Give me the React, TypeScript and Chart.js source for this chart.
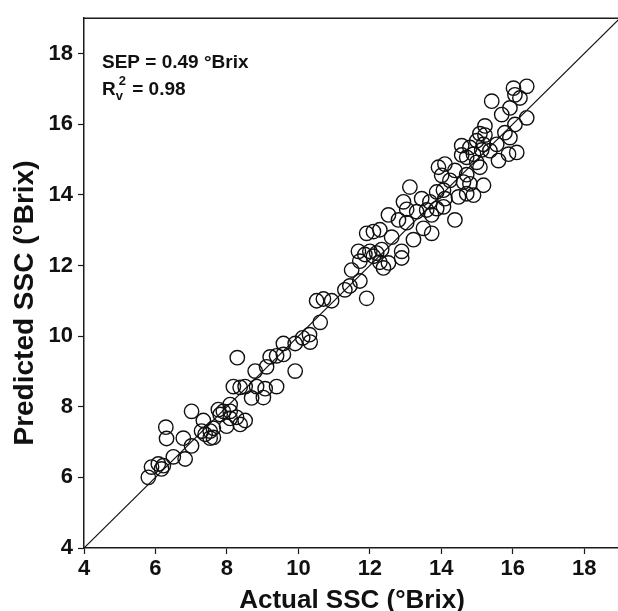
import { useEffect, useRef } from 'react';
import { Chart, registerables } from 'chart.js';
Chart.register(...registerables);

const actualSSC = [
  5.80, 5.89, 6.08, 6.17, 6.50, 6.83, 6.29, 6.31, 6.78, 7.01,
  7.01, 7.34, 7.29, 7.53, 7.53, 7.62, 7.76, 7.90, 8.09, 8.09,
  8.27, 8.51, 7.99, 8.18, 8.37, 8.51, 8.69, 9.02, 8.83, 9.07,
  9.39, 8.29, 8.79, 9.11, 9.21, 9.39, 9.58, 9.91, 9.58, 9.91,
  10.12, 10.33, 10.31, 10.61, 10.51, 10.70, 10.93, 11.30, 11.44, 11.91,
  11.72, 11.49, 11.72, 11.68, 12.00, 12.10, 12.33, 12.28, 12.38, 12.52,
  12.89, 12.89, 13.22, 11.91, 12.10, 12.28, 12.52, 12.61, 12.80, 13.03,
  13.73, 13.50, 12.94, 13.03, 13.31, 13.73, 14.06, 14.38, 13.68, 13.45,
  13.87, 14.10, 14.48, 13.12, 14.71, 16.39, 16.02, 16.20, 15.41, 15.92,
  15.69, 16.39, 16.06, 15.22, 15.08, 15.22, 15.78, 15.55, 16.11, 15.88,
  15.60, 15.36, 15.13, 14.80, 14.57, 14.57, 14.99, 15.08, 14.10, 13.92,
  14.38, 14.71, 14.62, 14.80, 15.18, 14.06, 14.90, 14.99, 14.71, 6.22,
  7.39, 7.62, 7.81, 8.37, 8.09, 11.86, 12.19, 13.59, 13.87, 14.90,
  15.18, 14.24, 14.01, 15.92, 16.06,
];
const predictedSSC = [
  6.00, 6.29, 6.38, 6.24, 6.58, 6.52, 7.42, 7.10, 7.11, 6.89,
  7.87, 7.61, 7.31, 7.31, 7.11, 7.39, 7.92, 7.87, 8.06, 7.67,
  7.70, 7.61, 7.45, 8.57, 8.55, 8.57, 8.25, 8.26, 8.57, 8.51,
  8.57, 9.39, 9.01, 9.13, 9.41, 9.44, 9.48, 9.01, 9.79, 9.79,
  9.95, 9.83, 10.04, 10.39, 11.00, 11.05, 11.00, 11.31, 11.42, 11.07,
  11.56, 11.87, 12.12, 12.40, 12.40, 12.26, 12.45, 12.09, 11.93, 12.07,
  12.40, 12.21, 12.73, 12.91, 12.96, 13.01, 13.43, 12.80, 13.29, 13.21,
  12.91, 13.05, 13.80, 13.59, 13.52, 13.43, 13.66, 13.29, 13.80, 13.89,
  14.08, 13.89, 13.94, 14.22, 14.03, 17.07, 17.02, 16.74, 16.65, 16.46,
  16.27, 16.18, 15.99, 15.95, 15.73, 15.69, 15.76, 15.43, 15.20, 15.15,
  14.97, 15.25, 15.27, 15.34, 15.39, 15.13, 14.92, 14.78, 14.87, 14.78,
  14.69, 14.57, 14.36, 14.31, 14.27, 14.13, 13.99, 15.53, 15.06, 6.33,
  7.22, 7.13, 7.78, 7.50, 7.87, 12.31, 12.35, 13.57, 13.61, 15.15,
  15.43, 14.41, 14.55, 15.62, 16.83,
];
const xTicks = [4, 6, 8, 10, 12, 14, 16, 18];
const yTicks = [4, 6, 8, 10, 12, 14, 16, 18];
const axisMin = 4;
const axisMax = 19;
const identityLine = [4, 19];
const sepText = 'SEP = 0.49 °Brix';
const r2Text = ' = 0.98';
const xTitle = 'Actual SSC (°Brix)';
const yTitle = 'Predicted SSC (°Brix)';

const FONT = "'Liberation Sans', Arial, Helvetica, sans-serif";
const INK = '#1a1a1a';

const decorPlugin = {
  id: 'decor',
  afterDraw(chart: any) {
    const { ctx, chartArea } = chart;
    ctx.save();
    ctx.strokeStyle = INK;
    ctx.lineWidth = 1.5;
    ctx.beginPath();
    ctx.moveTo(chartArea.left, chartArea.top);
    ctx.lineTo(chartArea.right, chartArea.top);
    ctx.stroke();

    ctx.fillStyle = '#111';
    ctx.font = `bold 26px ${FONT}`;
    ctx.textAlign = 'center';
    ctx.textBaseline = 'alphabetic';
    ctx.fillText(xTitle, (chartArea.left + chartArea.right) / 2, 608);
    ctx.save();
    ctx.translate(33, 303);
    ctx.rotate(-Math.PI / 2);
    ctx.font = `bold 28px ${FONT}`;
    ctx.fillText(yTitle, 0, 0);
    ctx.restore();

    ctx.textAlign = 'left';
    ctx.font = `bold 19px ${FONT}`;
    ctx.fillText(sepText, 102, 68);
    ctx.fillText('R', 102, 95);
    const rw = ctx.measureText('R').width;
    ctx.font = `bold 13px ${FONT}`;
    ctx.fillText('v', 102 + rw, 100);
    const vw = ctx.measureText('v').width;
    ctx.fillText('2', 102 + rw + 3, 85);
    const tw = ctx.measureText('2').width;
    ctx.font = `bold 19px ${FONT}`;
    ctx.fillText(r2Text, 102 + rw + Math.max(vw, tw + 3) + 1, 95);
    ctx.restore();
  },
};

export default function App() {
  const ref = useRef<HTMLCanvasElement>(null);
  useEffect(() => {
    if (!ref.current) return;
    const points = actualSSC.map((x, i) => ({ x, y: predictedSSC[i] }));
    const chart = new Chart(ref.current, {
      type: 'scatter',
      data: {
        datasets: [
          {
            label: 'identity',
            data: identityLine.map((v) => ({ x: v, y: v })),
            showLine: true,
            borderColor: '#111',
            borderWidth: 1.2,
            pointRadius: 0,
            fill: false,
          },
          {
            label: 'samples',
            data: points,
            pointRadius: 7.2,
            pointBorderWidth: 1.4,
            pointBorderColor: '#111',
            pointBackgroundColor: 'rgba(0,0,0,0)',
          },
        ],
      },
      options: {
        responsive: false,
        animation: false,
        devicePixelRatio: 1,
        layout: { padding: { top: 12, right: 20, left: 0, bottom: 0 } },
        plugins: { legend: { display: false }, tooltip: { enabled: false } },
        scales: {
          x: {
            type: 'linear',
            min: axisMin,
            max: axisMax,
            afterBuildTicks: (s: any) => { s.ticks = xTicks.map((v) => ({ value: v })); },
            afterFit: (s: any) => { s.height = 63; },
            grid: { drawOnChartArea: false, drawTicks: true, tickLength: 6, tickColor: INK, tickWidth: 1.2 },
            border: { color: INK, width: 1.5 },
            ticks: { color: '#111', font: { family: FONT, size: 22, weight: 'bold' }, padding: 2, maxRotation: 0, autoSkip: false },
          },
          y: {
            type: 'linear',
            min: axisMin,
            max: axisMax,
            afterBuildTicks: (s: any) => { s.ticks = yTicks.map((v) => ({ value: v })); },
            afterFit: (s: any) => { s.width = 84; },
            grid: { drawOnChartArea: false, drawTicks: true, tickLength: 6, tickColor: INK, tickWidth: 1.2 },
            border: { color: INK, width: 1.5 },
            ticks: { color: '#111', font: { family: FONT, size: 22, weight: 'bold' }, padding: 5, autoSkip: false },
          },
        },
      },
      plugins: [decorPlugin],
    });
    return () => chart.destroy();
  }, []);
  return (
    <div style={{ position: 'fixed', left: 0, top: 0, width: 618, height: 611, overflow: 'hidden', background: '#fff' }}>
      <canvas ref={ref} width={640} height={611} style={{ width: 640, height: 611, display: 'block' }} />
    </div>
  );
}
